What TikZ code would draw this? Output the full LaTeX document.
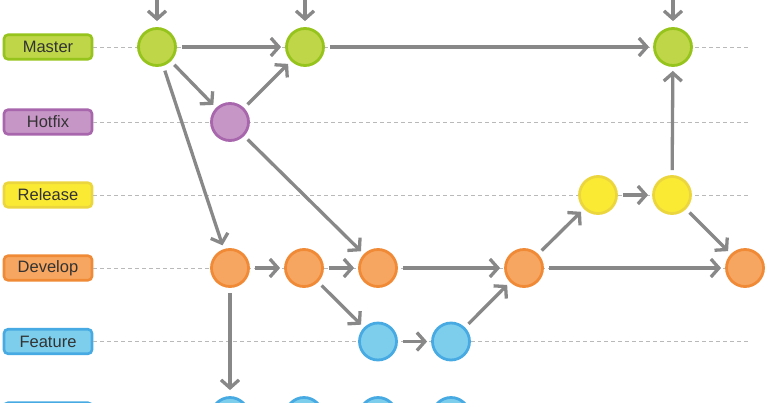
\documentclass[tikz,border=0pt]{standalone}
\usepackage{fontspec}
\setmainfont{Liberation Sans}
\usetikzlibrary{arrows.meta}
\definecolor{mfill}{RGB}{190,214,72}
\definecolor{mdraw}{RGB}{150,196,28}
\definecolor{hfill}{RGB}{198,150,198}
\definecolor{hdraw}{RGB}{168,102,172}
\definecolor{rfill}{RGB}{250,234,52}
\definecolor{rdraw}{RGB}{236,214,62}
\definecolor{dfill}{RGB}{246,166,96}
\definecolor{ddraw}{RGB}{240,138,54}
\definecolor{ffill}{RGB}{124,206,236}
\definecolor{fdraw}{RGB}{72,170,226}
\definecolor{arrgray}{RGB}{136,136,136}
\definecolor{guidegray}{RGB}{185,185,185}
\definecolor{txtgray}{RGB}{51,51,51}
\begin{document}
\begin{tikzpicture}[x=1pt,y=-1pt,
  lab/.style={rounded corners=4pt, minimum width=88pt, minimum height=24.5pt, line width=2.6pt, text=txtgray, font=\fontsize{16.5}{19}\selectfont, inner sep=0pt},
  commit/.style={circle, minimum size=37pt, inner sep=0pt, line width=2.8pt},
  mc/.style={fill=mfill, draw=mdraw},
  hc/.style={fill=hfill, draw=hdraw},
  rc/.style={fill=rfill, draw=rdraw},
  dc/.style={fill=dfill, draw=ddraw},
  fc/.style={fill=ffill, draw=fdraw},
  guide/.style={draw=guidegray, line width=0.9pt, dash pattern=on 4pt off 3pt},
  arr/.style={draw=arrgray, line width=3.3pt, -{Straight Barb[length=8pt,width=18pt]}, shorten <=5pt, shorten >=4pt}
]
\useasboundingbox (0,0) rectangle (768,402);
\clip (0,0) rectangle (768,402);
% labels
\node[lab, mc] (lM) at (48,47) {Master};
\node[lab, hc] (lH) at (48,122) {Hotfix};
\node[lab, rc] (lR) at (48,195) {Release};
\node[lab, dc] (lD) at (48,268) {Develop};
\node[lab, fc] (lF) at (48,341.5) {Feature};
\node[lab, fc] (lB) at (48,415) {};
% guide ends
\coordinate (eM) at (748,47);
\coordinate (eH) at (748,122);
\coordinate (eR) at (748,195);
\coordinate (eD) at (748,268);
\coordinate (eF) at (748,341.5);
\draw[guide] (lM.east) -- (eM);
\draw[guide] (lH.east) -- (eH);
\draw[guide] (lR.east) -- (eR);
\draw[guide] (lD.east) -- (eD);
\draw[guide] (lF.east) -- (eF);
% commits
\node[commit, mc] (m1) at (157,47) {};
\node[commit, mc] (m2) at (305,47) {};
\node[commit, mc] (m3) at (673,47) {};
\node[commit, hc] (h1) at (230,122) {};
\node[commit, rc] (r1) at (598,195) {};
\node[commit, rc] (r2) at (672,195) {};
\node[commit, dc] (d1) at (230,268) {};
\node[commit, dc] (d2) at (304,268) {};
\node[commit, dc] (d3) at (378,268) {};
\node[commit, dc] (d4) at (524,268) {};
\node[commit, dc] (d5) at (745,268) {};
\node[commit, fc] (f1) at (378,341.5) {};
\node[commit, fc] (f2) at (451,341.5) {};
\node[commit, fc] (b1) at (230,416) {};
\node[commit, fc] (b2) at (304,416) {};
\node[commit, fc] (b3) at (378,416) {};
\node[commit, fc] (b4) at (451,416) {};
% top entry points
\coordinate (t1) at (157,-5);
\coordinate (t2) at (305,-5);
\coordinate (t3) at (673,-5);
% arrows
\draw[arr, shorten >=6pt] (t1) -- (m1);
\draw[arr, shorten >=6pt] (t2) -- (m2);
\draw[arr, shorten >=6pt] (t3) -- (m3);
\draw[arr] (m1) -- (m2);
\draw[arr] (m1) -- (h1);
\draw[arr] (m1) -- (d1);
\draw[arr] (h1) -- (m2);
\draw[arr] (h1) -- (d3);
\draw[arr] (m2) -- (m3);
\draw[arr] (d1) -- (d2);
\draw[arr] (d2) -- (d3);
\draw[arr] (d2) -- (f1);
\draw[arr] (f1) -- (f2);
\draw[arr] (f2) -- (d4);
\draw[arr] (d3) -- (d4);
\draw[arr] (d4) -- (r1);
\draw[arr] (r1) -- (r2);
\draw[arr] (r2) -- (m3);
\draw[arr] (r2) -- (d5);
\draw[arr] (d4) -- (d5);
\draw[arr, shorten >=6pt] (d1) -- (b1);
\end{tikzpicture}
\end{document}
